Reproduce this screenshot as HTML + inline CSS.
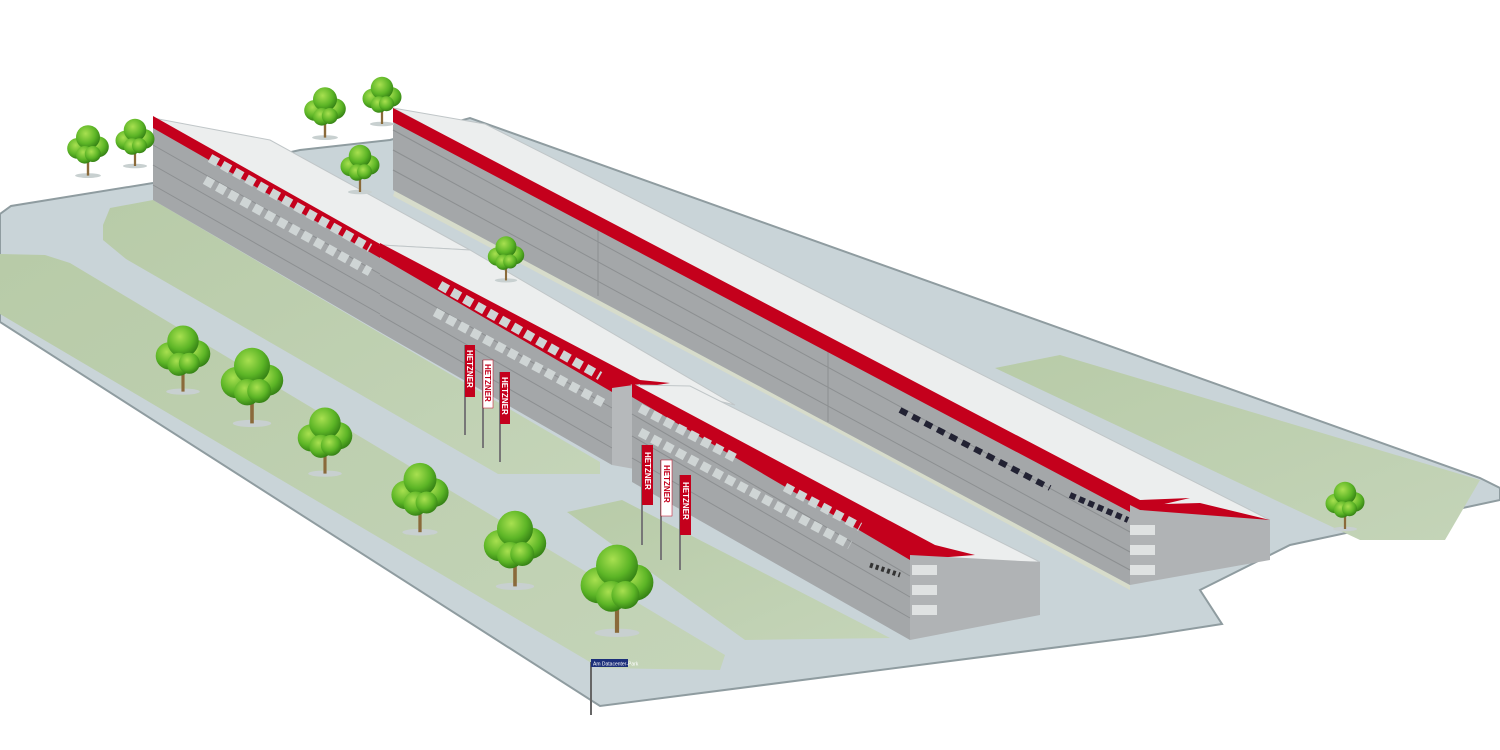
<!DOCTYPE html>
<html><head><meta charset="utf-8"><style>
html,body{margin:0;padding:0;background:#fff;}
svg{display:block;}
.fl{font-family:"Liberation Sans",sans-serif;font-size:8px;font-weight:bold;}
</style></head><body>
<svg width="1500" height="750" viewBox="0 0 1500 750" xmlns="http://www.w3.org/2000/svg">
<defs>
<linearGradient id="grass" x1="0" y1="0" x2="1" y2="1">
<stop offset="0" stop-color="#b8cba8"/><stop offset="1" stop-color="#c4d4b8"/></linearGradient>
<radialGradient id="tree" cx="0.4" cy="0.35" r="0.7">
<stop offset="0" stop-color="#a8e050"/><stop offset="0.6" stop-color="#5cb526"/><stop offset="1" stop-color="#2f7a12"/></radialGradient>
<g id="t"><ellipse cx="0" cy="32" rx="16" ry="3" fill="#c8d0d0"/><rect x="-1.5" y="0" width="3" height="32" fill="#8a6a3a"/>
<circle cx="-13" cy="-2" r="13" fill="url(#tree)"/><circle cx="13" cy="-4" r="13" fill="url(#tree)"/><circle cx="0" cy="-16" r="15" fill="url(#tree)"/><circle cx="-4" cy="6" r="11" fill="url(#tree)"/><circle cx="6" cy="5" r="10" fill="url(#tree)"/></g>
</defs>
<rect width="1500" height="750" fill="#fff"/>
<!-- pavement -->
<polygon points="0,214 11,206 153,183 300,150 390,140 470,118 1480,478 1500,488 1500,500 1290,545 1200,590 1222,624 1145,636 600,706 0,322" fill="#c9d4d8" stroke="#8f9ca0" stroke-width="2"/>
<!-- grass areas -->
<polygon points="103,225 110,208 153,200 600,462 600,474 498,474 126,259 103,240" fill="url(#grass)"/>
<polygon points="0,254 45,255 70,263 725,655 720,670 600,668 0,314" fill="url(#grass)"/>
<polygon points="567,512 622,500 890,638 745,640" fill="url(#grass)"/>
<polygon points="995,368 1060,355 1480,480 1445,540 1360,540" fill="url(#grass)"/>
<polygon points="395,190 600,300 830,420 1130,585 1130,590 830,428 393,196" fill="#d7dccb"/>
<!-- building 2 (right) -->
<polygon points="393,108 485,124 1270,520 1130,505" fill="#eceeee" stroke="#c0c6c8"/>
<polygon points="393,110 1130,512 1130,585 393,190" fill="#a4a7a9"/>
<g stroke="#8c8f91" stroke-width="1">
<line x1="393" y1="130" x2="1130" y2="532"/><line x1="393" y1="150" x2="1130" y2="552"/><line x1="393" y1="170" x2="1130" y2="570"/>
<line x1="598" y1="218" x2="598" y2="296"/><line x1="828" y1="343" x2="828" y2="422"/></g>
<polygon points="393,108 1140,500 1190,498 1130,512 393,122" fill="#c4001c"/>
<polygon points="1130,505 1270,520 1270,560 1130,585" fill="#b0b3b5"/>
<polygon points="1130,505 1200,503 1270,520 1140,510" fill="#c4001c"/>
<g fill="#dfe2e2"><rect x="1130" y="525" width="25" height="10"/><rect x="1130" y="545" width="25" height="10"/><rect x="1130" y="565" width="25" height="10"/></g>
<line x1="900" y1="410" x2="1050" y2="488" stroke="#223" stroke-width="6" stroke-dasharray="8 6"/>
<line x1="1070" y1="495" x2="1128" y2="520" stroke="#223" stroke-width="6" stroke-dasharray="6 4"/>
<!-- building 1a -->
<polygon points="153,118 270,140 470,250 380,245" fill="#eceeee" stroke="#c0c6c8"/>
<polygon points="153,125 380,255 380,332 153,200" fill="#a4a7a9"/>
<g stroke="#8c8f91"><line x1="153" y1="145" x2="380" y2="274"/><line x1="153" y1="165" x2="380" y2="294"/><line x1="153" y1="185" x2="380" y2="314"/></g>
<polygon points="153,116 380,244 380,258 153,128" fill="#c4001c"/>
<line x1="210" y1="158" x2="370" y2="248" stroke="#cfd5d5" stroke-width="9" stroke-dasharray="9 5"/>
<line x1="205" y1="180" x2="370" y2="272" stroke="#cfd5d5" stroke-width="9" stroke-dasharray="9 5"/>
<!-- building 1b -->
<polygon points="380,245 470,250 735,405 640,382" fill="#eceeee" stroke="#c0c6c8"/>
<polygon points="380,255 612,388 612,465 380,332" fill="#a4a7a9"/>
<g stroke="#8c8f91"><line x1="380" y1="275" x2="612" y2="408"/><line x1="380" y1="295" x2="612" y2="428"/><line x1="380" y1="315" x2="612" y2="448"/></g>
<polygon points="380,243 640,380 670,383 612,392 380,257" fill="#c4001c"/>
<polygon points="612,388 640,384 640,470 612,465" fill="#b6b9bb"/>
<line x1="440" y1="285" x2="600" y2="376" stroke="#cfd5d5" stroke-width="9" stroke-dasharray="9 5"/>
<line x1="435" y1="312" x2="605" y2="404" stroke="#cfd5d5" stroke-width="9" stroke-dasharray="9 5"/>
<!-- building 3 -->
<polygon points="632,385 690,386 1040,562 910,560" fill="#eceeee" stroke="#c0c6c8"/>
<polygon points="632,392 910,555 910,640 632,482" fill="#a4a7a9"/>
<g stroke="#8c8f91"><line x1="632" y1="414" x2="910" y2="576"/><line x1="632" y1="436" x2="910" y2="597"/><line x1="632" y1="458" x2="910" y2="618"/></g>
<polygon points="632,383 935,545 975,555 910,560 632,397" fill="#c4001c"/>
<polygon points="910,555 1040,562 1040,615 910,640" fill="#b0b3b5"/>
<g fill="#dfe2e2"><rect x="912" y="565" width="25" height="10"/><rect x="912" y="585" width="25" height="10"/><rect x="912" y="605" width="25" height="10"/></g>
<line x1="640" y1="408" x2="735" y2="458" stroke="#cfd5d5" stroke-width="9" stroke-dasharray="9 5"/>
<line x1="640" y1="432" x2="850" y2="545" stroke="#cfd5d5" stroke-width="9" stroke-dasharray="9 5"/>
<line x1="785" y1="487" x2="860" y2="527" stroke="#cfd5d5" stroke-width="9" stroke-dasharray="9 5"/>
<line x1="870" y1="565" x2="900" y2="575" stroke="#333" stroke-width="5" stroke-dasharray="3 3"/>
<!-- flags -->
<g stroke="#777" stroke-width="2"><line x1="465" y1="345" x2="465" y2="435"/><line x1="483" y1="360" x2="483" y2="448"/><line x1="500" y1="372" x2="500" y2="462"/>
<line x1="642" y1="445" x2="642" y2="545"/><line x1="661" y1="460" x2="661" y2="560"/><line x1="680" y1="475" x2="680" y2="570"/></g>
<g>
<rect x="465" y="345" width="10" height="52" fill="#c4001c"/><rect x="483" y="360" width="10" height="48" fill="#fff" stroke="#c4001c" stroke-width="0.5"/><rect x="500" y="372" width="10" height="52" fill="#c4001c"/>
<rect x="642" y="445" width="11" height="60" fill="#c4001c"/><rect x="661" y="460" width="11" height="56" fill="#fff" stroke="#c4001c" stroke-width="0.5"/><rect x="680" y="475" width="11" height="60" fill="#c4001c"/>
<text class="fl" fill="#fff" transform="translate(467,350) rotate(90)">HETZNER</text>
<text class="fl" fill="#c4001c" transform="translate(485,364) rotate(90)">HETZNER</text>
<text class="fl" fill="#fff" transform="translate(502,377) rotate(90)">HETZNER</text>
<text class="fl" fill="#fff" transform="translate(645,452) rotate(90)">HETZNER</text>
<text class="fl" fill="#c4001c" transform="translate(664,465) rotate(90)">HETZNER</text>
<text class="fl" fill="#fff" transform="translate(683,482) rotate(90)">HETZNER</text>
</g>
<!-- trees -->
<use href="#t" transform="translate(88,150) scale(0.8)"/>
<use href="#t" transform="translate(135,142) scale(0.75)"/>
<use href="#t" transform="translate(325,112) scale(0.8)"/>
<use href="#t" transform="translate(382,100) scale(0.75)"/>
<use href="#t" transform="translate(360,168) scale(0.75)"/>
<use href="#t" transform="translate(506,258) scale(0.7)"/>
<use href="#t" transform="translate(183,358) scale(1.05)"/>
<use href="#t" transform="translate(252,385) scale(1.2)"/>
<use href="#t" transform="translate(325,440) scale(1.05)"/>
<use href="#t" transform="translate(420,497) scale(1.1)"/>
<use href="#t" transform="translate(515,548) scale(1.2)"/>
<use href="#t" transform="translate(617,588) scale(1.4)"/>
<use href="#t" transform="translate(1345,505) scale(0.75)"/>
<!-- street sign -->
<line x1="591" y1="662" x2="591" y2="715" stroke="#666" stroke-width="2"/>
<rect x="591" y="659" width="37" height="8" fill="#1c2f7a"/>
<text x="593" y="665.5" font-family="Liberation Sans,sans-serif" font-size="5" fill="#fff">Am Datacenter-Park</text>
</svg>
</body></html>
